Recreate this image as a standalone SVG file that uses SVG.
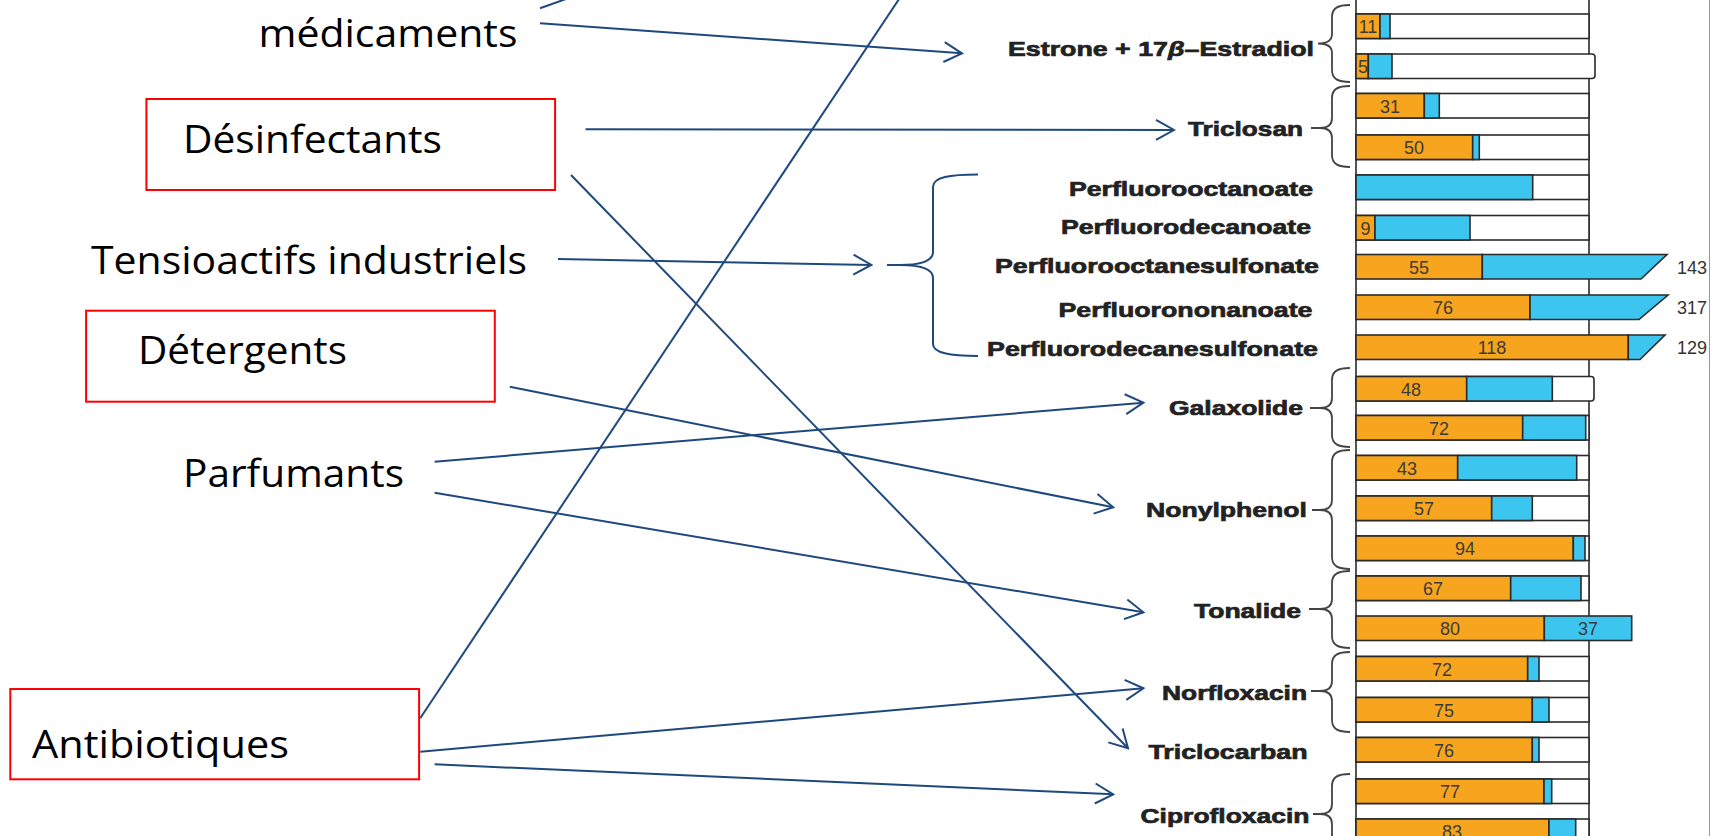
<svg xmlns="http://www.w3.org/2000/svg" width="1711" height="836" viewBox="0 0 1711 836">
<defs>
<style>
.lt{font-family:"Open Sans","Liberation Sans",sans-serif;font-size:38px;fill:#000}
.box{fill:none;stroke:#FF0000;stroke-width:2}
.cl{font-family:"Liberation Sans",Arial,sans-serif;font-weight:bold;font-size:21px;fill:#222;stroke:#222;stroke-width:0.7}
.num{font-family:"Liberation Sans",Arial,sans-serif;font-size:18px;fill:#3b3b3b;text-anchor:middle}
.ext{font-family:"Liberation Sans",Arial,sans-serif;font-size:18px;fill:#333}
.w{fill:#fff;stroke:#2a2a2a;stroke-width:1.6}
.o{fill:#F7A51E;stroke:#2a2a2a;stroke-width:1.6}
.b{fill:#3CC6EF;stroke:#2a2a2a;stroke-width:1.6}
.frame{stroke:#2a2a2a;stroke-width:1.6}
.br{fill:none;stroke:#444;stroke-width:1.8}
.con{fill:none;stroke:#1F497D;stroke-width:2}
</style>
<marker id="arr" viewBox="-20 -12 22 24" refX="0" refY="0" markerWidth="22" markerHeight="24" markerUnits="userSpaceOnUse" orient="auto">
<path d="M-18,-10 L0,0 L-18,10" fill="none" stroke="#1F497D" stroke-width="2"/>
</marker>
</defs>
<rect width="1711" height="836" fill="#fff"/>

<g id="chart">
<line class="frame" x1="1356" y1="0" x2="1356" y2="836"/>
<line class="frame" x1="1589" y1="0" x2="1589" y2="836"/>
<line x1="1709.5" y1="0" x2="1709.5" y2="836" stroke="#999" stroke-width="1"/>
<rect class="w" x="1356" y="-26" width="233" height="24.5"/>

<!-- row 0 -->
<rect class="w" x="1356" y="14" width="233" height="24.5"/>
<rect class="o" x="1356" y="14" width="24" height="24.5"/>
<text class="num" x="1368" y="33">11</text>
<rect class="b" x="1380" y="14" width="10" height="24.5"/>
<!-- row 1 -->
<rect class="w" x="1356" y="54" width="239" height="24.5" rx="3"/>
<rect class="o" x="1356" y="54" width="12.3" height="24.5"/>
<text class="num" x="1363" y="73">5</text>
<rect class="b" x="1368.3" y="54" width="23.7" height="24.5"/>
<!-- row 2 -->
<rect class="w" x="1356" y="93.5" width="233" height="24.5"/>
<rect class="o" x="1356" y="93.5" width="68.3" height="24.5"/>
<text class="num" x="1390" y="112.5">31</text>
<rect class="b" x="1424.3" y="93.5" width="15" height="24.5"/>
<!-- row 3 -->
<rect class="w" x="1356" y="135" width="233" height="24.5"/>
<rect class="o" x="1356" y="135" width="116.7" height="24.5"/>
<text class="num" x="1414" y="154">50</text>
<rect class="b" x="1472.7" y="135" width="6.6" height="24.5" fill="#1d6f8c"/>
<!-- row 4 -->
<rect class="w" x="1356" y="175" width="233" height="24.5"/>
<rect class="b" x="1356" y="175" width="176.7" height="24.5"/>
<!-- row 5 -->
<rect class="w" x="1356" y="215.5" width="233" height="24.5"/>
<rect class="o" x="1356" y="215.5" width="19" height="24.5"/>
<text class="num" x="1365.5" y="234.5">9</text>
<rect class="b" x="1375" y="215.5" width="95" height="24.5"/>
<!-- row 6 -->
<rect class="o" x="1356" y="254.5" width="126.3" height="24.5"/>
<text class="num" x="1419" y="273.5">55</text>
<polygon class="b" points="1482.3,254.5 1667,254.5 1641,279 1482.3,279"/>
<text class="ext" x="1677" y="273.5">143</text>
<!-- row 7 -->
<rect class="o" x="1356" y="295" width="174" height="24.5"/>
<text class="num" x="1443" y="314">76</text>
<polygon class="b" points="1530,295 1668,295 1639,319.5 1530,319.5"/>
<text class="ext" x="1677" y="314">317</text>
<!-- row 8 -->
<rect class="o" x="1356" y="335" width="272.3" height="24.5"/>
<text class="num" x="1492" y="354">118</text>
<polygon class="b" points="1628.3,335 1665,335 1640,359.5 1628.3,359.5"/>
<text class="ext" x="1677" y="353.5">129</text>
<!-- row 9 -->
<rect class="w" x="1356" y="376.5" width="238" height="24.5" rx="3"/>
<rect class="o" x="1356" y="376.5" width="110.7" height="24.5"/>
<text class="num" x="1411" y="395.5">48</text>
<rect class="b" x="1466.7" y="376.5" width="85.6" height="24.5"/>
<!-- row 10 -->
<rect class="w" x="1356" y="415.5" width="233" height="24.5"/>
<rect class="o" x="1356" y="415.5" width="166.7" height="24.5"/>
<text class="num" x="1439" y="434.5">72</text>
<rect class="b" x="1522.7" y="415.5" width="63" height="24.5"/>
<!-- row 11 -->
<rect class="w" x="1356" y="455.5" width="233" height="24.5"/>
<rect class="o" x="1356" y="455.5" width="101.7" height="24.5"/>
<text class="num" x="1407" y="474.5">43</text>
<rect class="b" x="1457.7" y="455.5" width="119" height="24.5"/>
<!-- row 12 -->
<rect class="w" x="1356" y="496" width="233" height="24.5"/>
<rect class="o" x="1356" y="496" width="135.7" height="24.5"/>
<text class="num" x="1424" y="515">57</text>
<rect class="b" x="1491.7" y="496" width="40.6" height="24.5"/>
<!-- row 13 -->
<rect class="w" x="1356" y="536" width="233" height="24.5"/>
<rect class="o" x="1356" y="536" width="217.3" height="24.5"/>
<text class="num" x="1465" y="555">94</text>
<rect class="b" x="1573.3" y="536" width="11.7" height="24.5"/>
<!-- row 14 -->
<rect class="w" x="1356" y="576" width="233" height="24.5"/>
<rect class="o" x="1356" y="576" width="154.7" height="24.5"/>
<text class="num" x="1433" y="595">67</text>
<rect class="b" x="1510.7" y="576" width="70.3" height="24.5"/>
<!-- row 15 -->
<rect class="o" x="1356" y="616" width="188.3" height="24.5"/>
<text class="num" x="1450" y="635">80</text>
<rect class="b" x="1544.3" y="616" width="87.4" height="24.5"/>
<text class="num" x="1588" y="635">37</text>
<!-- row 16 -->
<rect class="w" x="1356" y="656.5" width="233" height="24.5"/>
<rect class="o" x="1356" y="656.5" width="171.7" height="24.5"/>
<text class="num" x="1442" y="675.5">72</text>
<rect class="b" x="1527.7" y="656.5" width="11.3" height="24.5"/>
<!-- row 17 -->
<rect class="w" x="1356" y="697.5" width="233" height="24.5"/>
<rect class="o" x="1356" y="697.5" width="176.3" height="24.5"/>
<text class="num" x="1444" y="716.5">75</text>
<rect class="b" x="1532.3" y="697.5" width="16.7" height="24.5"/>
<!-- row 18 -->
<rect class="w" x="1356" y="737.5" width="233" height="24.5"/>
<rect class="o" x="1356" y="737.5" width="176.3" height="24.5"/>
<text class="num" x="1444" y="756.5">76</text>
<rect class="b" x="1532.3" y="737.5" width="6.7" height="24.5"/>
<!-- row 19 -->
<rect class="w" x="1356" y="779" width="233" height="24.5"/>
<rect class="o" x="1356" y="779" width="188" height="24.5"/>
<text class="num" x="1450" y="798">77</text>
<rect class="b" x="1544" y="779" width="7.7" height="24.5"/>
<!-- row 20 -->
<rect class="w" x="1356" y="819" width="233" height="24.5"/>
<rect class="o" x="1356" y="819" width="193" height="24.5"/>
<text class="num" x="1452" y="838">83</text>
<rect class="b" x="1549" y="819" width="26.7" height="24.5"/>
</g>

<g id="chart-labels">
<text class="cl" x="1008" y="56" textLength="306" lengthAdjust="spacingAndGlyphs">Estrone + 17<tspan font-style="italic">β</tspan>–Estradiol</text>
<text class="cl" x="1188" y="136" textLength="115" lengthAdjust="spacingAndGlyphs">Triclosan</text>
<text class="cl" x="1069" y="196" textLength="244" lengthAdjust="spacingAndGlyphs">Perfluorooctanoate</text>
<text class="cl" x="1061" y="234" textLength="250" lengthAdjust="spacingAndGlyphs">Perfluorodecanoate</text>
<text class="cl" x="995" y="273" textLength="324" lengthAdjust="spacingAndGlyphs">Perfluorooctanesulfonate</text>
<text class="cl" x="1058.5" y="316.5" textLength="254" lengthAdjust="spacingAndGlyphs">Perfluorononanoate</text>
<text class="cl" x="987" y="356" textLength="331" lengthAdjust="spacingAndGlyphs">Perfluorodecanesulfonate</text>
<text class="cl" x="1169" y="415" textLength="134" lengthAdjust="spacingAndGlyphs">Galaxolide</text>
<text class="cl" x="1146" y="516.5" textLength="161" lengthAdjust="spacingAndGlyphs">Nonylphenol</text>
<text class="cl" x="1194" y="618" textLength="107" lengthAdjust="spacingAndGlyphs">Tonalide</text>
<text class="cl" x="1162" y="700" textLength="145" lengthAdjust="spacingAndGlyphs">Norfloxacin</text>
<text class="cl" x="1148.5" y="759" textLength="159" lengthAdjust="spacingAndGlyphs">Triclocarban</text>
<text class="cl" x="1140.5" y="823" textLength="169" lengthAdjust="spacingAndGlyphs">Ciprofloxacin</text>
</g>

<g id="braces">
<path class="br" d="M1350,5 C1338,5 1332,8 1332,17 L1332,34 C1332,40 1328,43.5 1318,43.5 C1328,43.5 1332,47 1332,53 L1332,70 C1332,79 1338,82 1350,82"/>
<path class="br" d="M1311,128 L1320,128 C1328,128 1332,125 1332,118 L1332,98 C1332,89 1338,86 1350,86 M1320,128 C1328,128 1332,131 1332,138 L1332,155 C1332,164 1338,167 1350,167"/>
<path class="br" d="M1310,408 L1320,408 C1328,408 1332,405 1332,398 L1332,380 C1332,371 1338,368 1350,368 M1320,408 C1328,408 1332,411 1332,418 L1332,435 C1332,444 1338,447 1350,447"/>
<path class="br" d="M1312,510 L1320,510 C1328,510 1332,507 1332,500 L1332,462 C1332,453 1338,450 1350,450 M1320,510 C1328,510 1332,513 1332,520 L1332,557 C1332,566 1338,569 1350,569"/>
<path class="br" d="M1309,609 L1320,609 C1328,609 1332,606 1332,599 L1332,583 C1332,574 1338,571 1350,571 M1320,609 C1328,609 1332,612 1332,619 L1332,636 C1332,645 1338,648 1350,648"/>
<path class="br" d="M1311,691 L1320,691 C1328,691 1332,688 1332,681 L1332,664 C1332,655 1338,652 1350,652 M1320,691 C1328,691 1332,694 1332,701 L1332,720 C1332,729 1338,732 1350,732"/>
<path class="br" d="M1313,814 L1320,814 C1328,814 1332,811 1332,804 L1332,786 C1332,777 1338,774 1350,774 M1320,814 C1328,814 1332,817 1332,824 L1332,845"/>
<path id="pf-brace" fill="none" stroke="#1F497D" stroke-width="2" d="M978,174.5 C950,174.5 933,177 933,187 L933,252 C933,261 922,265 900,265 L887,265 M900,265 C922,265 933,269 933,278 L933,344 C933,353 950,356 978,356"/>
</g>

<g id="medicaments"><text class="lt" x="258.5" y="46.7" textLength="259" lengthAdjust="spacingAndGlyphs">médicaments</text></g>
<g id="desinfectants"><rect class="box" x="146.4" y="99" width="408.7" height="91"/><text class="lt" x="183" y="153.3" textLength="259" lengthAdjust="spacingAndGlyphs">Désinfectants</text></g>
<g id="tensioactifs"><text class="lt" x="91" y="274" textLength="436" lengthAdjust="spacingAndGlyphs">Tensioactifs industriels</text></g>
<g id="detergents"><rect class="box" x="86.1" y="310.7" width="408.7" height="91"/><text class="lt" x="138" y="364.3" textLength="209" lengthAdjust="spacingAndGlyphs">Détergents</text></g>
<g id="parfumants"><text class="lt" x="183" y="486.7" textLength="221" lengthAdjust="spacingAndGlyphs">Parfumants</text></g>
<g id="antibiotiques"><rect class="box" x="10.3" y="689" width="408.8" height="90.3"/><text class="lt" x="32" y="758.3" textLength="257" lengthAdjust="spacingAndGlyphs">Antibiotiques</text></g>

<g id="connectors">
<line class="con" x1="540" y1="8.3" x2="580" y2="-6"/>
<line class="con" x1="540" y1="23.3" x2="962" y2="53.3" marker-end="url(#arr)"/>
<line class="con" x1="585.5" y1="129.3" x2="1174" y2="130" marker-end="url(#arr)"/>
<line class="con" x1="571" y1="175" x2="1128" y2="748.3" marker-end="url(#arr)"/>
<line class="con" x1="558" y1="259" x2="871.4" y2="265" marker-end="url(#arr)"/>
<line class="con" x1="509.8" y1="386.7" x2="1113.2" y2="507.3" marker-end="url(#arr)"/>
<line class="con" x1="434.6" y1="461.7" x2="1143.4" y2="402.7" marker-end="url(#arr)"/>
<line class="con" x1="434.6" y1="492.7" x2="1143.4" y2="612.3" marker-end="url(#arr)"/>
<line class="con" x1="420.2" y1="718.3" x2="900.4" y2="-3"/>
<line class="con" x1="420.2" y1="751.7" x2="1143.4" y2="688.3" marker-end="url(#arr)"/>
<line class="con" x1="434.6" y1="764.3" x2="1113.2" y2="794.3" marker-end="url(#arr)"/>
</g>
</svg>
